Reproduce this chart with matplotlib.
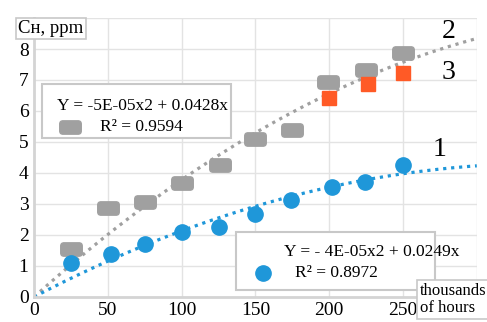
import numpy as np
import matplotlib
matplotlib.use("Agg")
import matplotlib.pyplot as plt
import matplotlib.patches as mpatches

plt.rcParams['font.family'] = ['Liberation Serif', 'DejaVu Serif']

# thousands of hours
x_gray = [25, 50, 75, 100, 126, 150, 175, 199, 225, 250]
y_gray = [1.53, 2.88, 3.05, 3.67, 4.27, 5.08, 5.38, 6.92, 7.33, 7.88]
x_orange = [200, 226, 250]
y_orange = [6.42, 6.87, 7.23]
x_blue = [25, 52, 75, 100, 125, 150, 174, 202, 224, 250]
y_blue = [1.08, 1.37, 1.70, 2.08, 2.25, 2.66, 3.12, 3.55, 3.72, 4.25]

# trendlines (quadratic through origin), coefficients a*x^2 + b*x
coef_gray = [-5.0e-05, 0.0428]
coef_blue = [-3.6e-05, 0.0249]

eq_gray = "Y = -5E-05x2 + 0.0428x"
r2_gray = "R² = 0.9594"
eq_blue = "Y = - 4E-05x2 + 0.0249x"
r2_blue = "R² = 0.8972"

c_gray = '#a0a0a0'
c_blue = '#1f97d9'
c_orange = '#ff5a26'

fig = plt.figure(figsize=(4.87, 3.22), dpi=100)
ax = fig.add_axes([0.070, 0.078, 0.909, 0.866])

# rounded rectangle marker for the gray series
rr = mpatches.FancyBboxPatch((-1.0, -0.62), 2.0, 1.24,
                             boxstyle="round,pad=0,rounding_size=0.3")
rr_path = rr.get_path()

xx = np.linspace(0, 300, 200)
ax.plot(xx, coef_gray[0] * xx**2 + coef_gray[1] * xx, ls=(0, (1, 1.5)),
        lw=2.3, color=c_gray, zorder=2)
ax.plot(xx, coef_blue[0] * xx**2 + coef_blue[1] * xx, ls=(0, (1, 1.5)),
        lw=2.3, color=c_blue, zorder=2)

ax.plot(x_gray, y_gray, ls='none', marker=rr_path, ms=15.5, color=c_gray, zorder=3)
ax.plot(x_orange, y_orange, ls='none', marker='s', ms=10, color=c_orange, zorder=4)
ax.plot(x_blue, y_blue, ls='none', marker='o', ms=11, color=c_blue, zorder=3)

ax.set_xlim(0, 300)
ax.set_ylim(0, 9)
ax.set_xticks([0, 50, 100, 150, 200, 250, 300])
ax.set_xticklabels(['0', '50', '100', '150', '200', '250', ''])
ax.set_yticks(range(0, 10))
ax.set_yticklabels([str(i) for i in range(0, 9)] + [''])
ax.grid(True, color='#e3e3e3', lw=1)
ax.set_axisbelow(True)
ax.tick_params(length=0, labelsize=14, pad=4)
for s in ['top', 'right']:
    ax.spines[s].set_visible(False)
for s in ['left', 'bottom']:
    ax.spines[s].set_color('#d4d4d4')
    ax.spines[s].set_linewidth(2)

# equation boxes
ax.add_patch(mpatches.Rectangle((0.018, 0.57), 0.427, 0.193, transform=ax.transAxes,
                                fill=True, fc='white', ec='#c8c8c8', lw=1.5, zorder=5))
ax.text(0.244, 0.685, eq_gray, transform=ax.transAxes, ha='center', va='center',
        fontsize=12.5, zorder=6)
ax.plot([0.081], [0.609], transform=ax.transAxes, marker=rr_path, ms=15.5,
        color=c_gray, clip_on=False, zorder=6)
ax.text(0.149, 0.609, r2_gray, transform=ax.transAxes, ha='left', va='center',
        fontsize=12.5, zorder=6)

ax.add_patch(mpatches.Rectangle((0.456, 0.025), 0.449, 0.208, transform=ax.transAxes,
                                fill=True, fc='white', ec='#c8c8c8', lw=1.5, zorder=5))
ax.text(0.763, 0.161, eq_blue, transform=ax.transAxes, ha='center', va='center',
        fontsize=12.5, zorder=6)
ax.plot([0.517], [0.086], transform=ax.transAxes, marker='o', ms=11,
        color=c_blue, clip_on=False, zorder=6)
ax.text(0.589, 0.086, r2_blue, transform=ax.transAxes, ha='left', va='center',
        fontsize=12.5, zorder=6)

# curve numbers
ax.text(276, 8.55, "2", fontsize=20, ha='left', va='center')
ax.text(276, 7.25, "3", fontsize=20, ha='left', va='center')
ax.text(270, 4.75, "1", fontsize=20, ha='left', va='center')

# axis labels in boxes
fig.text(0.037, 0.912, "Cн, ppm", fontsize=13.5, ha='left', va='center',
         bbox=dict(boxstyle='square,pad=0.12', fc='white', ec='#c8c8c8', lw=1.2))
fig.text(0.862, 0.07, "thousands\nof hours", fontsize=12, ha='left', va='center',
         linespacing=1.1,
         bbox=dict(boxstyle='square,pad=0.15', fc='white', ec='#c8c8c8', lw=1.2))

fig.savefig("out.png", dpi=100)
